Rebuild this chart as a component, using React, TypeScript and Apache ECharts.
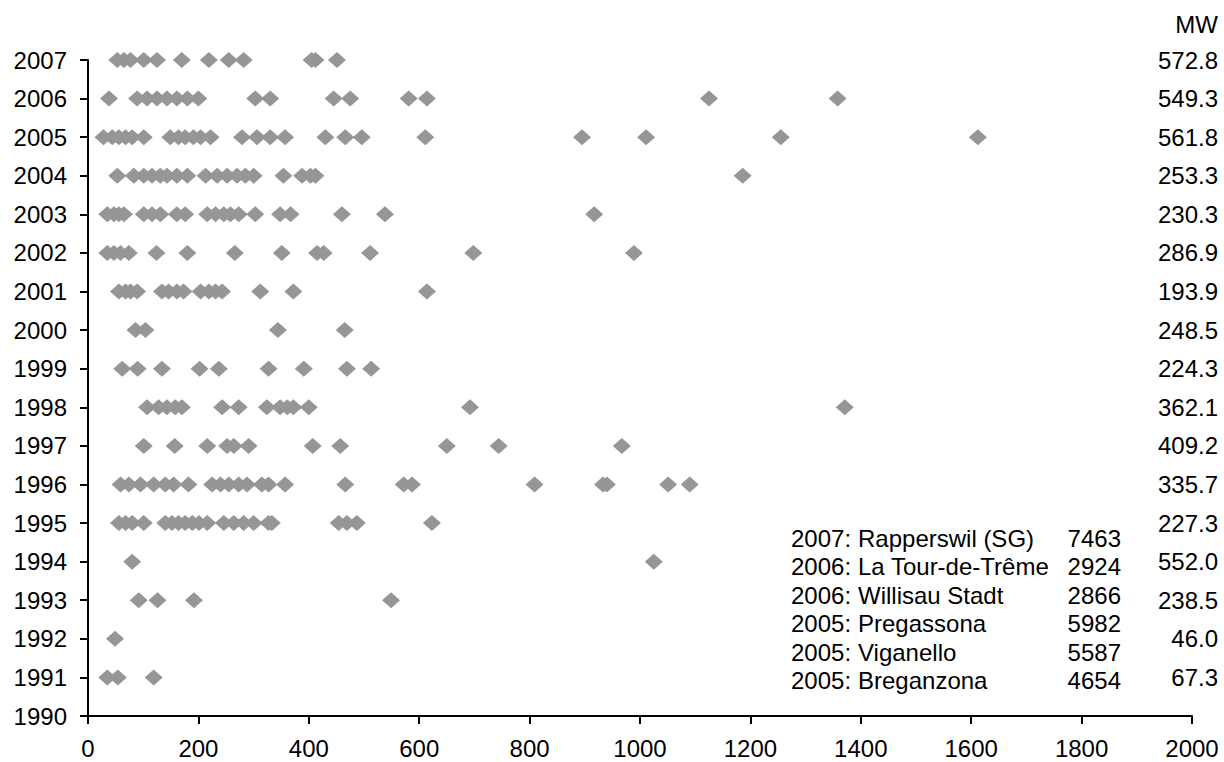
import React, { useEffect, useRef } from "react";
import * as echarts from "echarts";

// Plant sizes per commissioning year (x values)
const y1991 = [35, 54, 119];
const y1992 = [49];
const y1993 = [92, 126, 192, 549];
const y1994 = [80, 1025];
const y1995 = [56, 68, 80, 101, 140, 152, 164, 176, 189, 201, 216, 246, 264, 282, 300, 327, 333, 454, 469, 487, 623];
const y1996 = [59, 74, 95, 119, 140, 155, 182, 225, 240, 255, 273, 288, 315, 327, 357, 466, 572, 587, 809, 933, 940, 1051, 1090];
const y1997 = [101, 157, 216, 252, 264, 291, 407, 457, 650, 744, 967];
const y1998 = [107, 128, 143, 158, 170, 243, 273, 324, 348, 361, 372, 400, 692, 1371];
const y1999 = [62, 90, 134, 202, 237, 327, 391, 469, 513];
const y2000 = [86, 104, 344, 465];
const y2001 = [56, 68, 77, 89, 134, 146, 161, 173, 204, 219, 231, 243, 312, 372, 614];
const y2002 = [35, 47, 59, 74, 124, 180, 266, 351, 415, 427, 511, 698, 989];
const y2003 = [35, 47, 56, 65, 101, 116, 131, 161, 176, 216, 231, 246, 258, 273, 303, 348, 367, 460, 538, 917];
const y2004 = [53, 83, 101, 116, 131, 143, 161, 180, 213, 234, 252, 270, 285, 300, 354, 388, 403, 412, 1186];
const y2005 = [28, 44, 56, 68, 80, 101, 149, 164, 176, 191, 204, 222, 279, 306, 330, 357, 430, 466, 496, 611, 895, 1011, 1255, 1612];
const y2006 = [38, 89, 107, 125, 143, 161, 180, 200, 303, 330, 445, 475, 581, 614, 1125, 1358];
const y2007 = [53, 65, 77, 101, 125, 170, 219, 255, 282, 405, 412, 451];

const years = [1991, 1992, 1993, 1994, 1995, 1996, 1997, 1998, 1999, 2000, 2001, 2002, 2003, 2004, 2005, 2006, 2007];
const valuesByYear = [y1991, y1992, y1993, y1994, y1995, y1996, y1997, y1998, y1999, y2000, y2001, y2002, y2003, y2004, y2005, y2006, y2007];

// Yearly totals shown on the right-hand side
const mwTotals = [67.3, 46.0, 238.5, 552.0, 227.3, 335.7, 409.2, 362.1, 224.3, 248.5, 193.9, 286.9, 230.3, 253.3, 561.8, 549.3, 572.8];

// Largest sites
const siteYears = ["2007:", "2006:", "2006:", "2005:", "2005:", "2005:"];
const siteNames = ["Rapperswil (SG)", "La Tour-de-Trême", "Willisau Stadt", "Pregassona", "Viganello", "Breganzona"];
const siteValues = ["7463", "2924", "2866", "5982", "5587", "4654"];

const xTicks = { min: 0, max: 2000, interval: 200 };
const yTicks = { min: 1990, max: 2007, interval: 1 };

const FONT = "'Liberation Sans', Arial, sans-serif";
const FS = 24;

export default function App() {
  const ref = useRef<HTMLDivElement>(null);

  useEffect(() => {
    if (!ref.current) return;
    const chart = echarts.init(ref.current, null, { renderer: "svg" });

    const data: number[][] = [];
    years.forEach((yr, i) => {
      valuesByYear[i].forEach((v) => data.push([v, yr]));
    });

    const textStyle = { fontFamily: FONT, fontSize: FS, color: "#000" };
    const font = `${FS}px ${FONT}`;

    const siteTexts: any[] = [];
    siteNames.forEach((name, i) => {
      const y = 538 + i * 28.5;
      siteTexts.push({
        type: "text", left: 791, top: y - 12,
        style: { text: siteYears[i], font, fill: "#000" },
      });
      siteTexts.push({
        type: "text", left: 858, top: y - 12,
        style: { text: name, font, fill: "#000" },
      });
      siteTexts.push({
        type: "text", right: 1224 - 1121, top: y - 12,
        style: { text: siteValues[i], font, fill: "#000", textAlign: "right" },
      });
    });

    chart.setOption({
      animation: false,
      backgroundColor: "#fff",
      textStyle: { fontFamily: FONT },
      grid: { left: 88, right: 32, top: 60, bottom: 46, containLabel: false },
      xAxis: {
        type: "value",
        ...xTicks,
        axisLine: { show: true, onZero: false, lineStyle: { color: "#000", width: 2 } },
        axisTick: { show: true, length: 8, lineStyle: { color: "#000", width: 2 } },
        axisLabel: { ...textStyle, margin: 20, formatter: (v: number) => String(v) },
        splitLine: { show: false },
      },
      yAxis: [
        {
          type: "value",
          ...yTicks,
          position: "left",
          axisLine: { show: true, onZero: false, lineStyle: { color: "#000", width: 2 } },
          axisTick: { show: true, length: 8, lineStyle: { color: "#000", width: 2 } },
          axisLabel: { ...textStyle, margin: 21, formatter: (v: number) => String(v) },
          splitLine: { show: false },
        },
        {
          type: "value",
          ...yTicks,
          position: "right",
          axisLine: { show: false, onZero: false },
          axisTick: { show: false },
          axisLabel: {
            ...textStyle,
            align: "right",
            margin: 26,
            formatter: (v: number) => {
              const idx = years.indexOf(Math.round(v));
              return idx >= 0 ? mwTotals[idx].toFixed(1) : "";
            },
          },
          splitLine: { show: false },
        },
      ],
      graphic: [
        {
          type: "text", right: 1224 - 1218, top: 12,
          style: { text: "MW", font, fill: "#000", textAlign: "right" },
        },
        ...siteTexts,
      ],
      series: [
        {
          type: "scatter",
          yAxisIndex: 0,
          symbol: "diamond",
          symbolSize: [18, 16],
          itemStyle: { color: "#969696", opacity: 1 },
          data,
        },
      ],
    });

    return () => chart.dispose();
  }, []);

  return (
    <div
      ref={ref}
      style={{ position: "fixed", left: 0, top: 0, width: 1224, height: 762, background: "#fff" }}
    />
  );
}
